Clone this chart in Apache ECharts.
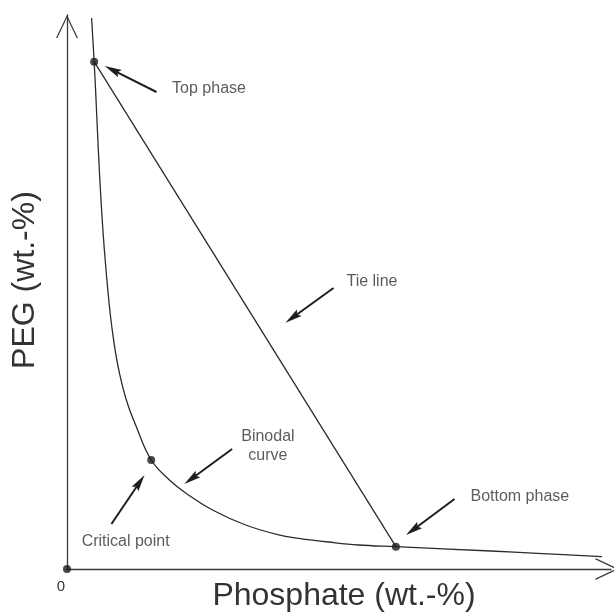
<!DOCTYPE html>
<html>
<head>
<meta charset="utf-8">
<style>html,body{margin:0;padding:0;background:#fff}#c{width:614px;height:614px}</style>
<script src="https://cdn.jsdelivr.net/npm/echarts@6/dist/echarts.min.js"></script>
</head>
<body>
<div id="c"></div>
<script>
// Binodal curve (x = phosphate, y = PEG)
const curveX = [4.52, 4.99, 5.34, 5.76, 6.25, 6.87, 7.68, 8.39, 9.41, 10.91, 12.74, 15.48, 18.83, 21.88, 26.75, 32.85, 38.94, 42.60, 48.08, 53.56, 60.46, 77.88, 86.47, 98.35];
const curveY = [99.46, 91.57, 84.66, 75.63, 66.61, 57.58, 48.56, 42.60, 36.46, 30.51, 25.69, 19.68, 16.06, 13.66, 10.65, 7.94, 6.14, 5.54, 4.87, 4.33, 4.03, 3.25, 2.83, 2.22];
// Marked points: top phase, critical point, bottom phase, origin
const pointX = [4.99, 15.48, 60.46, 0];
const pointY = [91.57, 19.68, 4.03, 0];
// Tie line endpoints (top phase -> bottom phase)
const tieX = [4.99, 60.46];
const tieY = [91.57, 4.03];
// Annotation texts and their anchor positions
const annotationLabels = ['Top phase', 'Tie line', 'Binodal\ncurve', 'Critical point', 'Bottom phase'];
const labelX = [19.32, 51.37, 36.93, 2.69, 74.17];
const labelY = [86.64, 51.86, 22.15, 4.93, 13.0];
// Arrow tails and heads
const arrowFromX = [16.45, 48.99, 30.35, 8.17, 71.24];
const arrowFromY = [86.10, 50.72, 21.66, 8.12, 12.64];
const arrowToX = [8.34, 41.43, 22.83, 13.38, 63.58];
const arrowToY = [90.11, 45.36, 16.25, 15.70, 7.04];
const xTickLabels = ['0'];
const xTitle = 'Phosphate (wt.-%)';
const yTitle = 'PEG (wt.-%)';

const FONT = "'Liberation Sans', Arial, Helvetica, sans-serif";
const INK = '#2b2b2b';
const chevron = 'path://M11,0 L22,23 L20.6,23 L11,2.8 L1.4,23 L0,23 Z';

const chart = echarts.init(document.getElementById('c'));
const axisCommon = {
  type: 'value', min: 0, max: 100, interval: 100,
  splitLine: {show: false}, axisTick: {show: false},
  axisLine: {show: true, symbol: ['none', chevron], symbolSize: [22, 23],
    lineStyle: {color: '#3a3a3a', width: 1.3}}
};
chart.setOption({
  animation: false,
  backgroundColor: '#fff',
  grid: {left: 67, right: 0, top: 15, bottom: 45},
  xAxis: Object.assign({}, axisCommon, {
    axisLine: Object.assign({}, axisCommon.axisLine, {symbolOffset: [0, -4]}),
    axisLabel: {show: true, margin: 10, fontSize: 15, color: '#333', fontFamily: FONT,
      align: 'right', padding: [0, 2, 0, 0],
      formatter: v => (v === 0 ? xTickLabels[0] : '')}
  }),
  yAxis: Object.assign({}, axisCommon, {
    axisLine: Object.assign({}, axisCommon.axisLine, {symbolOffset: [0, -11.5]}),
    axisLabel: {show: false}
  }),
  graphic: [
    {type: 'text', x: 344, y: 596, style: {text: xTitle, font: '32px ' + FONT, fill: '#333', textAlign: 'center', textVerticalAlign: 'middle'}},
    {type: 'text', x: 25, y: 280, rotation: Math.PI / 2, style: {text: yTitle, font: '32px ' + FONT, fill: '#333', textAlign: 'center', textVerticalAlign: 'middle'}}
  ],
  series: [
    {
      type: 'line', name: 'Binodal curve', smooth: 0.4, showSymbol: false, symbol: 'none',
      lineStyle: {color: INK, width: 1.3},
      data: curveX.map((x, i) => [x, curveY[i]]), z: 3
    },
    {
      type: 'line', name: 'Tie line', showSymbol: false, symbol: 'none',
      lineStyle: {color: INK, width: 1.3},
      data: tieX.map((x, i) => [x, tieY[i]]), z: 3,
      markLine: {
        silent: true, animation: false,
        symbol: ['none', 'path://M5,0 L10,18 L5,15 L0,18 Z'], symbolSize: [8, 17],
        lineStyle: {color: '#1e1e1e', width: 2, type: 'solid'},
        label: {show: false},
        data: arrowFromX.map((x, i) => [{coord: [x, arrowFromY[i]]}, {coord: [arrowToX[i], arrowToY[i]]}])
      }
    },
    {
      type: 'scatter', name: 'Points', symbolSize: 8, clip: false,
      itemStyle: {color: '#1a1a1a'},
      data: pointX.map((x, i) => [x, pointY[i]]), z: 5
    },
    {
      type: 'scatter', name: 'Labels', symbolSize: 0, silent: true, clip: false,
      data: annotationLabels.map((t, i) => ({
        name: t, value: [labelX[i], labelY[i]],
        label: i === 2
          ? {show: true, position: 'inside', align: 'center', verticalAlign: 'middle', lineHeight: 19}
          : {show: true, position: 'right', distance: 0, align: 'left', verticalAlign: 'middle'}
      })),
      label: {formatter: '{b}', fontSize: 16, color: '#333', fontFamily: FONT}
    }
  ]
});
</script>
</body>
</html>
